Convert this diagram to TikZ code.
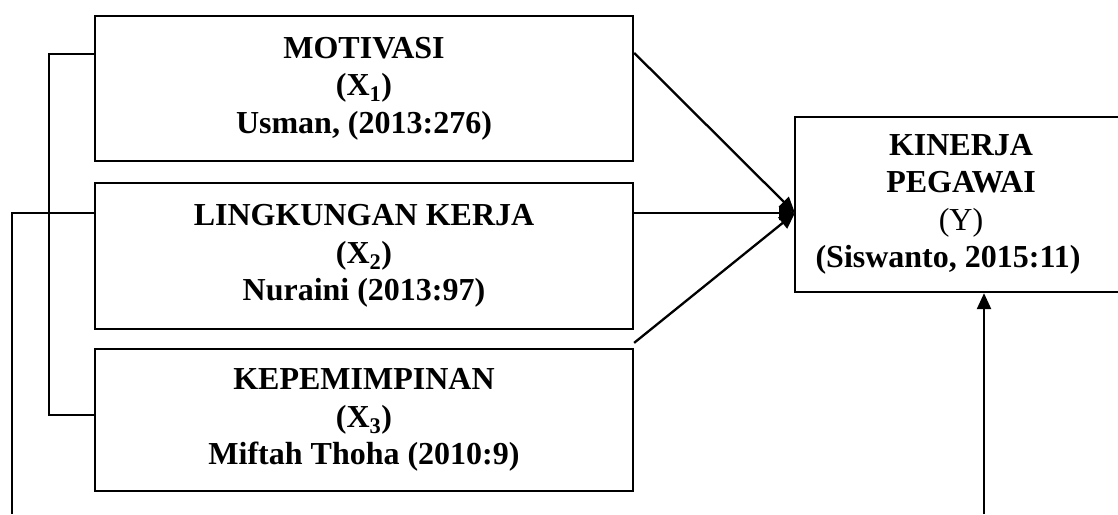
\documentclass[tikz,border=0pt]{standalone}
\usepackage{fontspec}
\setmainfont{Liberation Serif}
\usetikzlibrary{arrows.meta}
\begin{document}
\begin{tikzpicture}[x=1pt,y=-1pt,
  box/.style={draw, line width=2.3pt, inner sep=0pt, align=center,
    font=\fontsize{32}{37.5}\selectfont\bfseries},
  varbox/.style={box, minimum width=538pt},
  link/.style={line width=2.3pt},
  arr/.style={line width=2.3pt, -{Triangle[length=16pt,width=14pt]}}]
\useasboundingbox (0,0) rectangle (1118,514);
% variable boxes
\node[varbox, minimum height=145pt] (b1) at (364,88.5)
  {MOTIVASI\\(X\textsubscript{1})\\Usman, (2013:276)};
\node[varbox, minimum height=146pt] (b2) at (364,256)
  {LINGKUNGAN KERJA\\(X\textsubscript{2})\\Nuraini (2013:97)};
\node[varbox, minimum height=142pt] (b3) at (364,420)
  {KEPEMIMPINAN\\(X\textsubscript{3})\\Miftah Thoha (2010:9)};
% dependent box (right edge runs off the page)
\node[box, minimum width=332pt, minimum height=175pt] (bY) at (961,204.5)
  {KINERJA\\PEGAWAI\\{\mdseries (Y)}\\(Siswanto, 2015:11)\kern26pt};
% connectors
\coordinate (tip) at (795,213);
\draw[arr] ([yshift=-38pt]b1.north east) -- (tip);
\draw[arr] (b2.east |- tip) -- (tip);
\draw[arr] ([yshift=5pt]b3.north east) -- (tip);
% left bracket between X1 and X3
\coordinate (k1) at (49,54);
\coordinate (k2) at (49,415);
\draw[link] (b1.west |- k1) -- (k1) -- (k2) -- (b3.west |- k2);
% outer line to X2
\coordinate (bl) at (12,514);
\draw[link] (bl) |- (b2.west |- tip);
% bottom arrow into Y
\coordinate (bb) at (984,514);
\draw[arr] (bb) -- (bY.south -| bb);
\end{tikzpicture}
\end{document}
